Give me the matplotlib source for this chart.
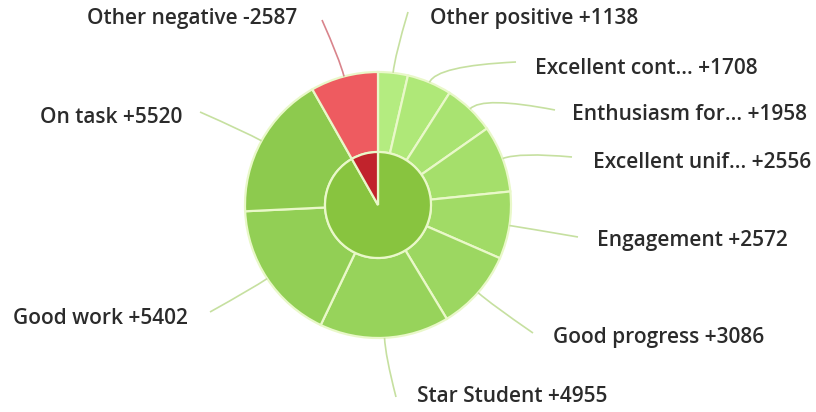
import numpy as np
import matplotlib.pyplot as plt
from matplotlib.path import Path
from matplotlib.patches import PathPatch

plt.rcParams['font.family'] = ['Open Sans', 'DejaVu Sans']

# outer ring, clockwise from 12 o'clock
labels = ["Other positive", "Excellent cont...", "Enthusiasm for...", "Excellent unif...",
          "Engagement", "Good progress", "Star Student", "Good work", "On task",
          "Other negative"]
values = [1138, 1708, 1958, 2556, 2572, 3086, 4955, 5402, 5520, -2587]
outer_colors = ["#b4ec80", "#afe878", "#a9e371", "#a5df6b", "#a1db66",
                "#9cd761", "#97d35b", "#92cf55", "#8dca4e", "#ee5b60"]

# inner ring: positive total vs negative total
inner_values = [sum(v for v in values if v > 0), -sum(v for v in values if v < 0)]
inner_colors = ["#88c43f", "#c1232c"]

W, H = 816, 412
cx, cy = 378, 205          # pixel coords of centre (y down)
r_out, r_in = 133, 53

# label layout in pixel coords: text x, text y, align, leader end
label_pos = [
    (430, 18, 'left', (408, 12)),
    (535, 68, 'left', (516, 62)),
    (572, 114, 'left', (555, 110)),
    (593, 162, 'left', (572, 157)),
    (597, 240, 'left', (578, 237)),
    (553, 337, 'left', (533, 333)),
    (417, 397, 'left', (396, 397)),
    (188, 318, 'right', (210, 312)),
    (182, 117, 'right', (200, 112)),
    (297, 18, 'right', (322, 20)),
]

fig = plt.figure(figsize=(W / 100, H / 100), dpi=100)
ax = fig.add_axes([0, 0, 1, 1])

absvals = [abs(v) for v in values]
ax.pie(absvals, radius=r_out, center=(cx, H - cy), startangle=90, counterclock=False,
       colors=outer_colors,
       wedgeprops=dict(width=r_out - r_in, edgecolor="#e9f8c9", linewidth=1.6))
ax.pie(inner_values, radius=r_in, center=(cx, H - cy), startangle=90, counterclock=False,
       colors=inner_colors,
       wedgeprops=dict(edgecolor="#e9f8c9", linewidth=1.6))

# leader lines + labels
total = sum(absvals)
cum = np.cumsum([0] + absvals)
for i, (name, v) in enumerate(zip(labels, values)):
    mid = (cum[i] + cum[i + 1]) / 2 / total * 2 * np.pi
    sx, sy = cx + r_out * np.sin(mid), cy - r_out * np.cos(mid)
    kx, ky = cx + (r_out + 18) * np.sin(mid), cy - (r_out + 18) * np.cos(mid)
    tx, ty, ha, (ex, ey) = label_pos[i]
    lc = "#d9848c" if v < 0 else "#c6e0a0"
    path = Path([(sx, H - sy), (kx, H - ky), (ex, H - ey)],
                [Path.MOVETO, Path.CURVE3, Path.CURVE3])
    ax.add_patch(PathPatch(path, fill=False, edgecolor=lc, linewidth=1.2))
    txt = "%s %+d" % (name, v)
    ax.text(tx, H - ty, txt, ha=ha, va='center', fontsize=15, fontweight='semibold',
            color="#2b2b2b")

ax.set_xlim(0, W)
ax.set_ylim(0, H)
ax.set_aspect('equal')
ax.axis('off')

fig.savefig("out.png", dpi=100)
